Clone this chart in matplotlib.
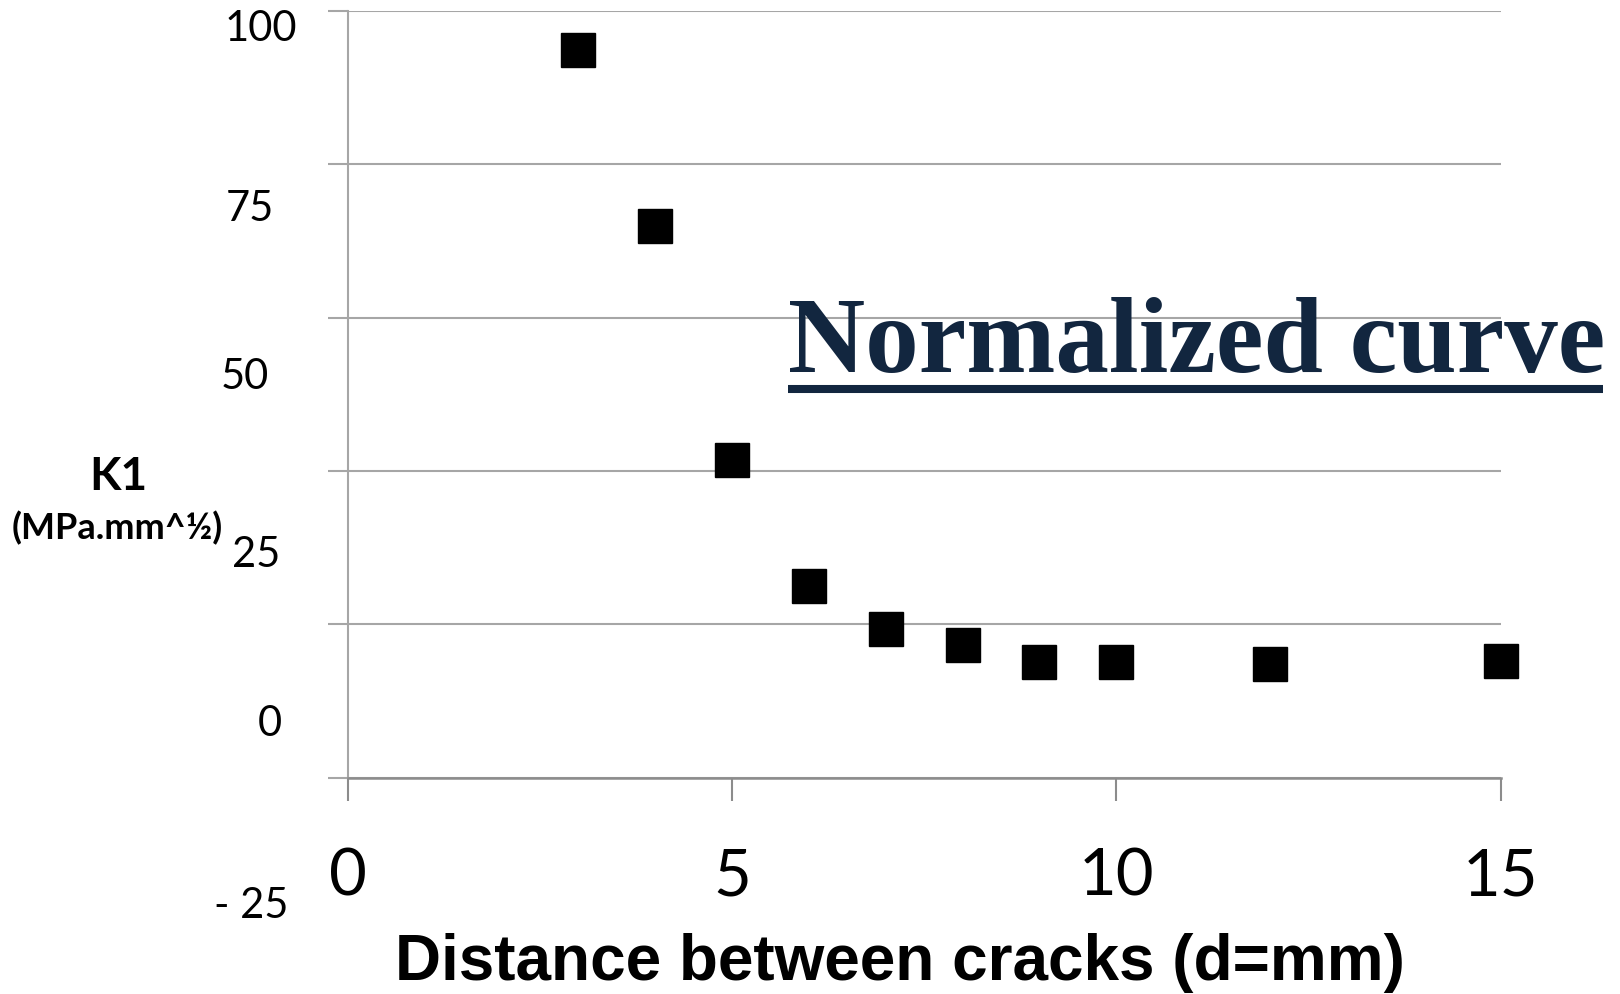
import matplotlib.pyplot as plt
from matplotlib.lines import Line2D

# данные
d = [3, 4, 5, 6, 7, 8, 9, 10, 12, 15]
k1 = [93.6, 64.9, 26.8, 6.3, -0.8, -3.3, -6.2, -6.2, -6.5, -6.0]
x_ticks = [0, 5, 10, 15]
y_grid = [-25, 0, 25, 50, 75, 100]
y_labels = ["100", "75", "50", "25", "0", "- 25"]

W, H = 1620, 994
def fx(px): return px / W
def fy(py): return 1 - py / H

# подписи оси y стоят вразнобой (как на оригинале): центр x, базовая линия y в пикселях
y_label_pos = [(261, 41), (250, 221), (244.5, 389), (256.5, 567), (269.5, 736), (251.5, 918)]

fig = plt.figure(figsize=(16.2, 9.94), dpi=100)
ax = fig.add_axes([fx(347.7), fy(777.7), (1500.7 - 347.7) / W, (777.7 - 11) / H])

ax.plot(d, k1, linestyle="none", marker="s", markersize=24.5, color="black", clip_on=False)
ax.set_xlim(0, 15)
ax.set_ylim(-25, 100)
ax.set_yticks(y_grid)
ax.set_yticklabels([])
ax.set_xticks(x_ticks)
ax.set_xticklabels([str(t) for t in x_ticks], family="Lato", fontsize=47)
ax.grid(axis="y", color="#a6a6a6", lw=1.5)
ax.set_axisbelow(True)

for s in ["top", "right"]:
    ax.spines[s].set_visible(False)
ax.spines["left"].set_color("#a6a6a6")
ax.spines["left"].set_linewidth(1.5)
ax.spines["bottom"].set_color("#8c8c8c")
ax.spines["bottom"].set_linewidth(1.8)
ax.tick_params(axis="y", length=14.4, width=1.5, color="#a6a6a6")
ax.tick_params(axis="x", length=16.5, width=1.5, color="#8c8c8c", pad=34)

for lab, (px, py) in zip(y_labels, y_label_pos):
    fig.text(fx(px), fy(py), lab, ha="center", va="baseline", family="Lato", fontsize=30)

fig.text(fx(118), fy(490), "K1", ha="center", va="baseline", family="Lato",
         weight="bold", fontsize=33)
fig.text(fx(117), fy(539), "(MPa.mm^½)", ha="center", va="baseline",
         family=["Lato", "DejaVu Sans"], weight="bold", fontsize=26)

fig.text(fx(900), fy(980), "Distance between cracks (d=mm)", ha="center", va="baseline",
         family="Liberation Sans", weight="bold", fontsize=46)

# надпись с подчёркиванием
fig.text(fx(788), fy(372), "Normalized curve", ha="left", va="baseline",
         family="Liberation Serif", weight="bold", fontsize=77, color="#12263F")
fig.add_artist(Line2D([fx(788), fx(1603)], [fy(389), fy(389)], transform=fig.transFigure,
                      lw=5.8, color="#12263F", solid_capstyle="butt"))

fig.savefig("out.png", dpi=100)
